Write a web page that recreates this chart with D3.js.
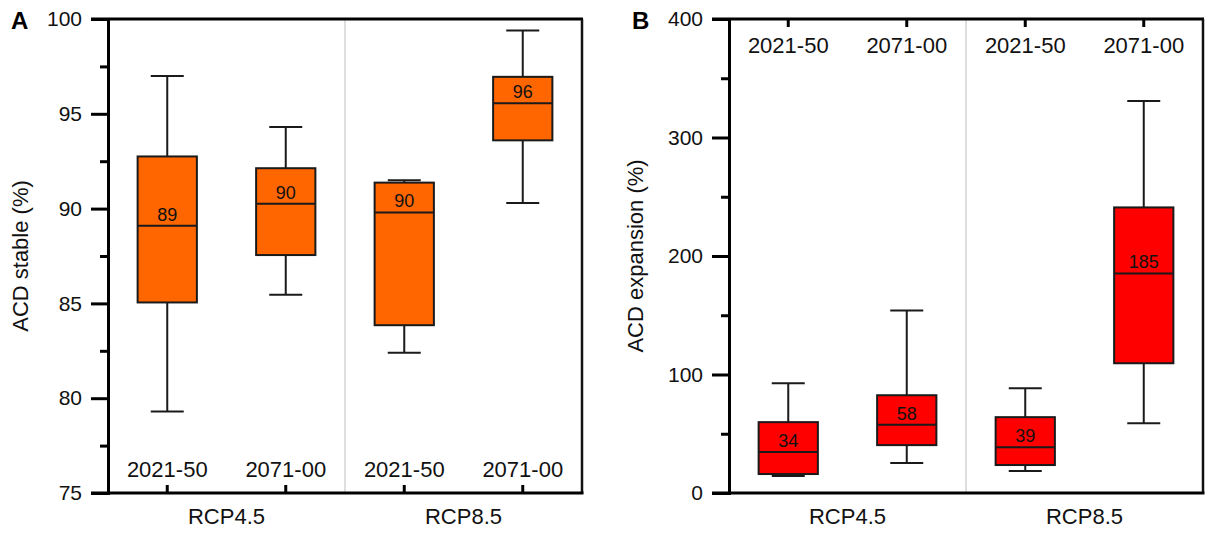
<!DOCTYPE html>
<html>
<head>
<meta charset="utf-8">
<script src="https://cdn.jsdelivr.net/npm/d3@7"></script>
<style>
  html, body { margin: 0; padding: 0; background: #fff; }
  svg { display: block; font-family: "Liberation Sans", Arial, sans-serif; }
</style>
</head>
<body>
<svg id="chart" width="1205" height="533"></svg>
<script>
// ---------- data ----------
const scenarios = ["RCP4.5", "RCP8.5"];
const periods = ["2021-50", "2071-00"];

// Panel A: ACD stable (%)
const stableMin    = [79.3, 85.45, 82.4, 90.3];
const stableQ1     = [85.05, 87.55, 83.85, 93.6];
const stableMedian = [89.1, 90.25, 89.8, 95.55];
const stableQ3     = [92.75, 92.13, 91.37, 96.95];
const stableMax    = [97.0, 94.3, 91.5, 99.4];
const stableLabels = ["89", "90", "90", "96"];
const stableTicks  = [75, 80, 85, 90, 95, 100];
const stableMinor  = [77.5, 82.5, 87.5, 92.5, 97.5];

// Panel B: ACD expansion (%)
const expMin    = [14.3, 25.3, 18.5, 58.9];
const expQ1     = [16.0, 40.4, 23.6, 109.5];
const expMedian = [34.5, 57.5, 38.7, 185.3];
const expQ3     = [59.8, 82.5, 64.0, 241.0];
const expMax    = [92.6, 154.1, 88.4, 330.9];
const expLabels = ["34", "58", "39", "185"];
const expTicks  = [0, 100, 200, 300, 400];
const expMinor  = [50, 150, 250, 350];

// ---------- drawing ----------
const svg = d3.select("#chart");
const groups = [];
scenarios.forEach(s => periods.forEach(p => groups.push(s + "|" + p)));

function panel(opts) {
  const { left, right, top, bottom, domain, ticks, minor, mins, q1, med, q3, maxs, labels,
          fill, title, letter, catTicksTop, periodLabelY, titleX } = opts;
  const g = svg.append("g");
  const x = d3.scaleBand().domain(groups).range([left, right]).paddingInner(0).paddingOuter(0);
  const y = d3.scaleLinear().domain(domain).range([bottom, top]);
  const bw = x.bandwidth();
  const boxW = bw * 0.5;
  const capW = 33;

  // divider between scenarios
  g.append("line")
    .attr("x1", x(groups[2])).attr("x2", x(groups[2]))
    .attr("y1", top).attr("y2", bottom)
    .attr("stroke", "#c8c8c8").attr("stroke-width", 1.2);

  // boxes
  const data = groups.map((k, i) => ({ k, min: mins[i], q1: q1[i], med: med[i], q3: q3[i], max: maxs[i], lab: labels[i] }));
  const bx = g.selectAll("g.box").data(data).join("g").attr("class", "box");
  const cx = d => x(d.k) + bw / 2;
  bx.append("line").attr("x1", cx).attr("x2", cx)
    .attr("y1", d => y(d.max)).attr("y2", d => y(d.min))
    .attr("stroke", "#1a1a1a").attr("stroke-width", 2);
  bx.append("line").attr("x1", d => cx(d) - capW / 2).attr("x2", d => cx(d) + capW / 2)
    .attr("y1", d => y(d.max)).attr("y2", d => y(d.max))
    .attr("stroke", "#1a1a1a").attr("stroke-width", 2);
  bx.append("line").attr("x1", d => cx(d) - capW / 2).attr("x2", d => cx(d) + capW / 2)
    .attr("y1", d => y(d.min)).attr("y2", d => y(d.min))
    .attr("stroke", "#1a1a1a").attr("stroke-width", 2);
  bx.append("rect")
    .attr("x", d => cx(d) - boxW / 2).attr("width", boxW)
    .attr("y", d => y(d.q3)).attr("height", d => y(d.q1) - y(d.q3))
    .attr("fill", fill).attr("stroke", "#1a1a1a").attr("stroke-width", 2);
  bx.append("line").attr("x1", d => cx(d) - boxW / 2).attr("x2", d => cx(d) + boxW / 2)
    .attr("y1", d => y(d.med)).attr("y2", d => y(d.med))
    .attr("stroke", "#1a1a1a").attr("stroke-width", 2);
  bx.append("text").attr("x", cx).attr("y", d => y(d.med) - 5)
    .attr("text-anchor", "middle").attr("font-size", 18).attr("fill", "#111")
    .text(d => d.lab);

  // frame: top and right
  g.append("line").attr("x1", left - 17).attr("x2", right + 1).attr("y1", top).attr("y2", top)
    .attr("stroke", "#000").attr("stroke-width", 3);
  g.append("line").attr("x1", right).attr("x2", right).attr("y1", top).attr("y2", bottom)
    .attr("stroke", "#111").attr("stroke-width", 2.5);
  g.append("line").attr("x1", left - 17).attr("x2", right + 1.5).attr("y1", bottom).attr("y2", bottom)
    .attr("stroke", "#000").attr("stroke-width", 3);

  // y axis
  const ya = g.append("g").attr("transform", `translate(${left},0)`)
    .call(d3.axisLeft(y).tickValues(ticks).tickSize(17).tickPadding(9).tickFormat(d3.format("d")));
  ya.select(".domain").attr("stroke", "#000").attr("stroke-width", 3);
  ya.selectAll(".tick line").attr("stroke", "#000").attr("stroke-width", 3);
  ya.selectAll(".tick text").attr("font-size", 21).attr("fill", "#111")
    .attr("font-family", "'Liberation Sans', Arial, sans-serif");
  const ym = g.append("g").attr("transform", `translate(${left},0)`)
    .call(d3.axisLeft(y).tickValues(minor).tickSize(8).tickFormat(""));
  ym.select(".domain").remove();
  ym.selectAll(".tick line").attr("stroke", "#000").attr("stroke-width", 3);

  // category ticks (inward)
  const ca = g.append("g")
    .attr("transform", `translate(0,${catTicksTop ? top : bottom})`)
    .call((catTicksTop ? d3.axisTop(x) : d3.axisBottom(x)).tickSize(-8).tickFormat(""));
  ca.select(".domain").remove();
  ca.selectAll(".tick line").attr("stroke", "#000").attr("stroke-width", 3);

  // period labels
  g.selectAll("text.period").data(groups).join("text").attr("class", "period")
    .attr("x", d => x(d) + bw / 2).attr("y", periodLabelY)
    .attr("text-anchor", "middle").attr("font-size", 22).attr("fill", "#111")
    .text(d => d.split("|")[1]);

  // scenario labels
  g.selectAll("text.scen").data(scenarios).join("text").attr("class", "scen")
    .attr("x", (d, i) => x(groups[i * 2]) + bw)
    .attr("y", bottom + 31)
    .attr("text-anchor", "middle").attr("font-size", 22).attr("fill", "#111")
    .text(d => d);

  // axis title
  g.append("text")
    .attr("transform", `translate(${titleX},${(top + bottom) / 2}) rotate(-90)`)
    .attr("text-anchor", "middle").attr("dy", "0.35em").attr("font-size", 22).attr("fill", "#111")
    .text(title);

  // panel letter
  g.append("text").attr("x", left - 97).attr("y", top + 10)
    .attr("font-size", 24).attr("font-weight", "bold").attr("fill", "#000")
    .text(letter);
}

panel({
  left: 108, right: 582, top: 19, bottom: 493, domain: [75, 100],
  ticks: stableTicks, minor: stableMinor,
  mins: stableMin, q1: stableQ1, med: stableMedian, q3: stableQ3, maxs: stableMax, labels: stableLabels,
  fill: "#FF6600", title: "ACD stable (%)", letter: "A",
  catTicksTop: false, periodLabelY: 477, titleX: 20
});

panel({
  left: 729, right: 1203, top: 19, bottom: 493, domain: [0, 400],
  ticks: expTicks, minor: expMinor,
  mins: expMin, q1: expQ1, med: expMedian, q3: expQ3, maxs: expMax, labels: expLabels,
  fill: "#FF0000", title: "ACD expansion (%)", letter: "B",
  catTicksTop: true, periodLabelY: 53, titleX: 635
});
</script>
</body>
</html>
